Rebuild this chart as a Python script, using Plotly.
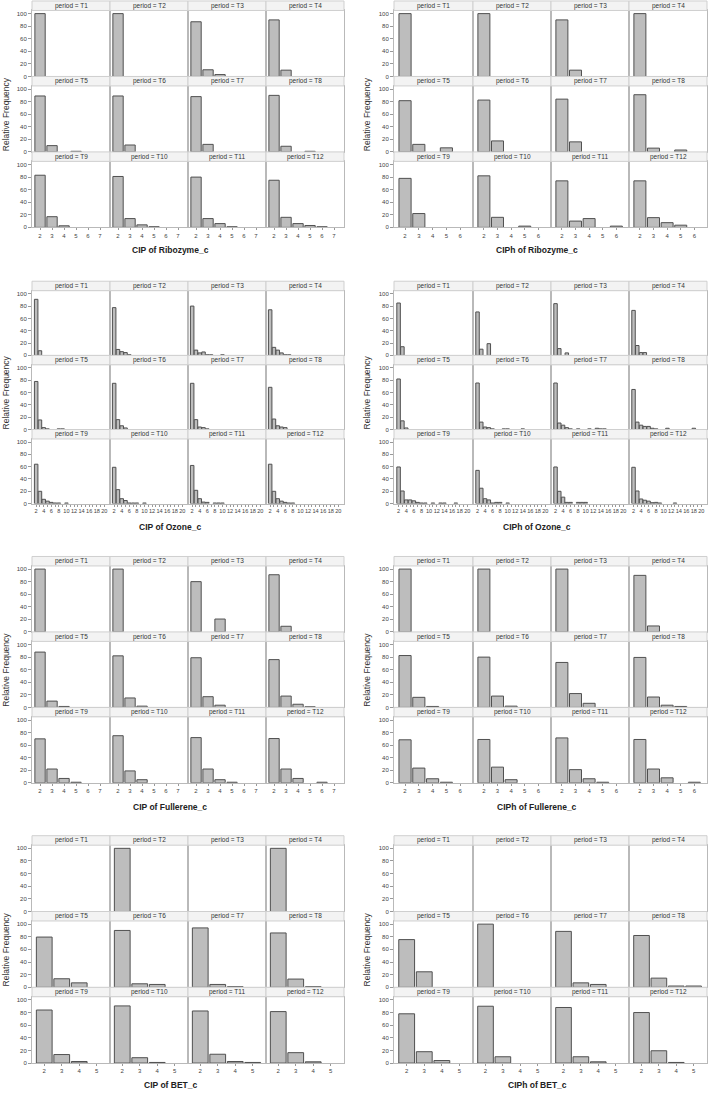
import plotly.graph_objects as go

periods = [f"T{i}" for i in range(1, 13)]

cats_rib_cip = [2, 3, 4, 5, 6, 7]
cats_rib_ciph = [2, 3, 4, 5, 6]
cats_ozone = list(range(2, 21))
cats_full_cip = [2, 3, 4, 5, 6, 7]
cats_full_ciph = [2, 3, 4, 5, 6]
cats_bet = [2, 3, 4, 5]

# Relative frequency per period (T1..T12); list index 0 = category 2
rib_cip = [[100], [100], [87, 10.6, 3], [90, 10],
           [89, 10, 0, 1], [89, 11], [88, 12], [90, 9, 0, 1],
           [83, 17, 2.5], [81, 14, 4, 1], [80, 14, 6, 1], [75, 16, 6, 3, 1]]
rib_ciph = [[100], [100], [90, 10], [100],
            [81.5, 12, 0, 6.5], [82.5, 17.5], [84, 16], [91, 6, 0, 3],
            [78, 22], [82, 16, 0, 2], [74, 10, 14, 0, 2], [74, 15.5, 7.5, 3.5]]
oz_cip = [[91, 7.5], [77.5, 9.6, 6, 4.5, 1], [80, 8.5, 4, 5.5, 1, 1, 0, 0, 1], [74, 13, 8.5, 4, 1, 1],
          [78, 15.5, 3, 1, 0, 0, 1, 1], [75, 16, 6, 2.5], [75, 16, 4, 3, 1], [68.5, 17, 6, 4, 3],
          [64, 20, 7, 4, 2, 1, 1, 0, 1], [59, 22.7, 8, 5, 1, 1, 1, 0, 1],
          [62, 21.6, 8, 2.5, 2, 0, 1, 1, 1], [64, 20, 8, 4, 2, 1, 1]]
oz_ciph = [[85, 14], [70.5, 10, 0, 19], [84, 11, 0, 4], [73, 16, 4.5, 4.5],
           [82, 14, 2.5], [75.5, 12, 4, 3, 1, 0, 0, 1, 1, 0, 0, 0, 1],
           [75.5, 10.5, 7, 3, 1, 0, 1, 0, 0, 1, 0, 2, 1, 1],
           [65, 12, 7, 5, 5, 2, 1, 0, 0, 2, 0, 0, 0, 0, 0, 0, 2],
           [59.5, 20.5, 6, 6, 4.5, 2, 1, 1, 0, 1, 0, 1, 1, 0, 0, 1],
           [54, 25, 8, 6, 1, 2, 2, 0, 1],
           [59.5, 20, 10.5, 2, 2, 0, 2, 2, 2],
           [59, 20.5, 7.5, 5.5, 4, 1.5, 2, 1, 0, 0, 0, 1]]
full_cip = [[100], [100], [80, 0, 20.5], [91, 9],
            [88, 10, 1.5], [82, 15, 2], [79, 17, 3.5], [76, 18, 5, 1],
            [70, 22, 7, 1], [75, 19, 5], [72, 22, 5, 1], [70.5, 22, 7, 0, 1]]
full_ciph = [[100], [100], [100], [90, 9.5],
             [82.5, 16, 1.5], [80, 18, 2], [71.5, 22, 6.5], [79.5, 16.5, 3.5, 1.5],
             [68.5, 23.5, 6.5, 1], [69, 25, 5], [71.5, 21, 6.5, 1], [69, 22, 8, 0, 1]]
bet_cip = [[], [100], [], [100],
           [79.5, 13.5, 7], [90, 5.5, 4.5], [94, 4.5, 1], [86, 13, 1],
           [84, 13.5, 2.5], [90.5, 8.5, 1], [82.5, 14, 2.5, 1], [81.5, 16.5, 2]]
bet_ciph = [[], [], [], [],
            [75.5, 24.5], [100], [88.5, 7, 4.5], [82, 14.5, 2, 2],
            [78, 18, 4], [90, 10], [88, 10, 2], [80, 19.5, 1]]

W, H = 708, 1094
FONT = "Liberation Sans, Arial, sans-serif"
LEFT_COLS = [32, 110, 188, 266, 344]
RIGHT_COLS = [394, 473, 551, 629, 707]

groups = [
    dict(title="CIP of Ribozyme_c", data=rib_cip, cats=cats_rib_cip, xr=[1.33, 7.83], bw=0.86,
         cols=LEFT_COLS, top=1, bot=228, tx=170, ty=251, yx=6),
    dict(title="CIPh of Ribozyme_c", data=rib_ciph, cats=cats_rib_ciph, xr=[1.2, 6.93], bw=0.88,
         cols=RIGHT_COLS, top=1, bot=228, tx=537, ty=251, yx=367),
    dict(title="CIP of Ozone_c", data=oz_cip, cats=cats_ozone, xr=[0.9, 21.5], bw=0.92,
         cols=LEFT_COLS, top=282, bot=505, tx=170, ty=528, yx=6),
    dict(title="CIPh of Ozone_c", data=oz_ciph, cats=cats_ozone, xr=[0.8, 21.5], bw=0.92,
         cols=RIGHT_COLS, top=282, bot=505, tx=537, ty=528, yx=367),
    dict(title="CIP of Fullerene_c", data=full_cip, cats=cats_full_cip, xr=[1.33, 7.83], bw=0.86,
         cols=LEFT_COLS, top=558, bot=785, tx=170, ty=809, yx=6),
    dict(title="CIPh of Fullerene_c", data=full_ciph, cats=cats_full_ciph, xr=[1.2, 6.93], bw=0.88,
         cols=RIGHT_COLS, top=558, bot=785, tx=537, ty=809, yx=367),
    dict(title="CIP of BET_c", data=bet_cip, cats=cats_bet, xr=[1.3, 5.76], bw=0.9,
         cols=LEFT_COLS, top=838, bot=1066, tx=170, ty=1088, yx=6),
    dict(title="CIPh of BET_c", data=bet_ciph, cats=cats_bet, xr=[1.28, 5.77], bw=0.9,
         cols=RIGHT_COLS, top=838, bot=1066, tx=537, ty=1088, yx=367),
]

STRIP_H = 9.5
FRAME = "#b9b9b9"

fig = go.Figure()
layout = {}
shapes = []
annotations = []


def px_x(v):
    return v / W


def px_y(v):
    return 1 - v / H


n = 0
for g in groups:
    rowh = (g["bot"] - g["top"]) / 3.0
    is_oz = len(g["cats"]) > 10
    for i, vals in enumerate(g["data"]):
        n += 1
        r, c = divmod(i, 4)
        x0, x1 = g["cols"][c], g["cols"][c + 1]
        rtop = g["top"] + r * rowh
        sbot = rtop + STRIP_H
        rbot = g["top"] + (r + 1) * rowh
        xs = [g["cats"][k] for k, v in enumerate(vals) if v > 0]
        ys = [v for v in vals if v > 0]
        xa = "x" if n == 1 else f"x{n}"
        ya = "y" if n == 1 else f"y{n}"
        fig.add_trace(go.Bar(x=xs, y=ys, width=g["bw"], xaxis=xa, yaxis=ya, showlegend=False,
                             hoverinfo="skip",
                             marker=dict(color="#bdbdbd", line=dict(color="#505050", width=1))))
        bottom = (r == 2)
        left = (c == 0)
        if is_oz:
            ttext = [str(v) if v % 2 == 0 else "" for v in g["cats"]]
            tsize = 5.6
        else:
            ttext = [str(v) for v in g["cats"]]
            tsize = 6
        layout["xaxis" if n == 1 else f"xaxis{n}"] = dict(
            domain=[px_x(x0), px_x(x1)], range=g["xr"], anchor=ya,
            showline=True, mirror=True, linecolor=FRAME, linewidth=1,
            showgrid=False, zeroline=False,
            tickmode="array", tickvals=g["cats"], ticktext=ttext, tickangle=0,
            ticks="outside" if bottom else "", ticklen=2, tickcolor="#999",
            showticklabels=bottom, tickfont=dict(size=tsize, color="#444", family=FONT),
            fixedrange=True)
        layout["yaxis" if n == 1 else f"yaxis{n}"] = dict(
            domain=[px_y(rbot), px_y(sbot)], range=[0, 105], anchor=xa,
            showline=True, mirror=True, linecolor=FRAME, linewidth=1,
            showgrid=False, zeroline=False,
            tickmode="array", tickvals=[0, 20, 40, 60, 80, 100],
            ticks="outside" if left else "", ticklen=3, tickcolor="#999",
            showticklabels=left, tickfont=dict(size=6, color="#444", family=FONT),
            fixedrange=True)
        shapes.append(dict(type="rect", xref="paper", yref="paper",
                           x0=px_x(x0), x1=px_x(x1), y0=px_y(sbot), y1=px_y(rtop),
                           fillcolor="#f3f3f3", line=dict(color="#cfcfcf", width=1)))
        annotations.append(dict(xref="paper", yref="paper", x=px_x((x0 + x1) / 2),
                                y=px_y((rtop + sbot) / 2), text=f"period = {periods[i]}",
                                showarrow=False, xanchor="center", yanchor="middle",
                                font=dict(size=6.5, color="#333", family=FONT)))
    annotations.append(dict(xref="paper", yref="paper", x=px_x(g["tx"]), y=px_y(g["ty"]),
                            text=f"<b>{g['title']}</b>", showarrow=False,
                            xanchor="center", yanchor="middle",
                            font=dict(size=8.5, color="#222", family=FONT)))
    annotations.append(dict(xref="paper", yref="paper", x=px_x(g["yx"]),
                            y=px_y((g["top"] + g["bot"]) / 2), text="Relative Frequency",
                            textangle=-90, showarrow=False, xanchor="center", yanchor="middle",
                            font=dict(size=8.5, color="#333", family=FONT)))

fig.update_layout(**layout)
fig.update_layout(width=W, height=H, margin=dict(l=0, r=0, t=0, b=0),
                  paper_bgcolor="white", plot_bgcolor="white", hovermode=False,
                  shapes=shapes, annotations=annotations, bargap=0,
                  font=dict(family=FONT))
fig.write_html("out.html", config={"displayModeBar": False, "staticPlot": True},
               post_script="document.body.style.margin='0';document.body.style.overflow='hidden';")
